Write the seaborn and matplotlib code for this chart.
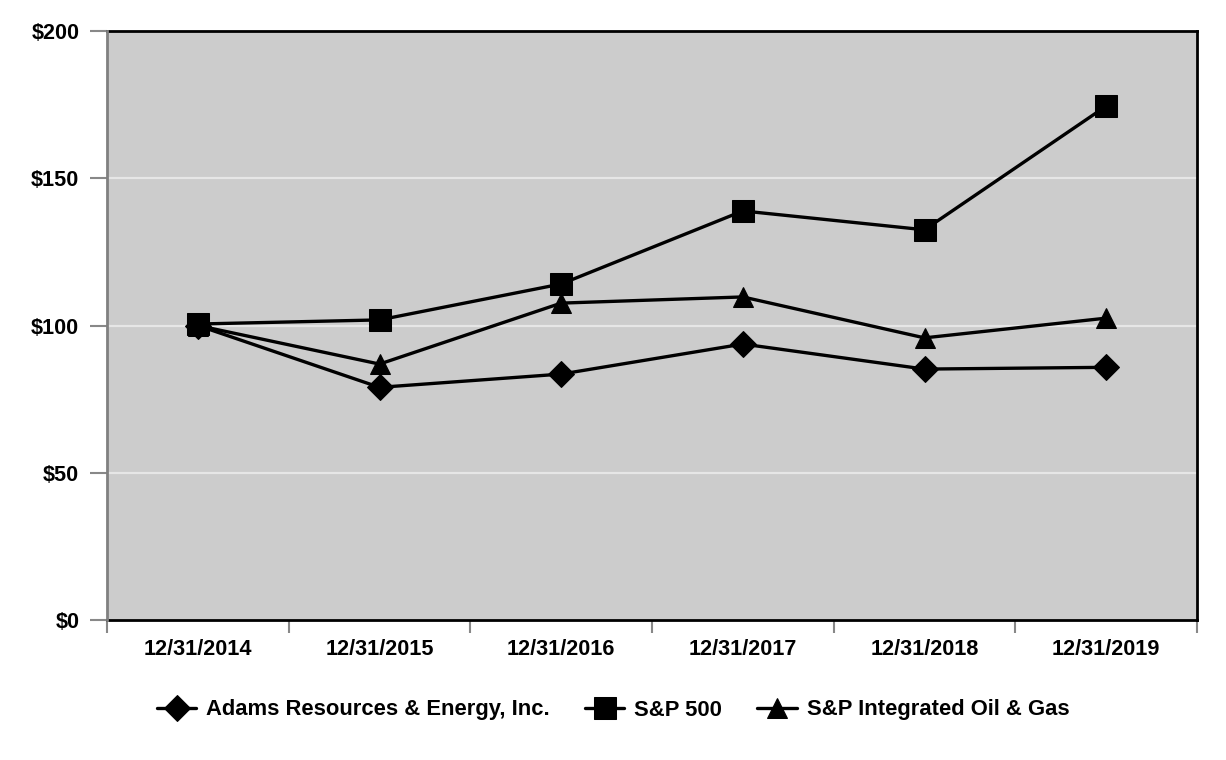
import matplotlib
matplotlib.use("Agg")
import matplotlib.pyplot as plt
import seaborn as sns
import pandas as pd
import numpy as np

dates = ["12/31/2014", "12/31/2015", "12/31/2016", "12/31/2017", "12/31/2018", "12/31/2019"]
adams = [100.0, 79.0, 83.5, 93.7, 85.2, 85.8]
sp500 = [100.5, 101.9, 114.1, 138.9, 132.5, 174.5]
oilgas = [100.0, 86.9, 107.6, 109.7, 95.8, 102.5]
series_names = ["Adams Resources & Energy, Inc.", "S&P 500", "S&P Integrated Oil & Gas"]
yticks = [0, 50, 100, 150, 200]

sns.set_theme(style="white")
plt.rcParams["font.family"] = ["Liberation Sans", "DejaVu Sans"]
plt.rcParams["font.weight"] = "bold"
plt.rcParams["text.color"] = "black"
plt.rcParams["xtick.color"] = "black"
plt.rcParams["ytick.color"] = "black"

rows = []
for name, vals in zip(series_names, [adams, sp500, oilgas]):
    for i, (d, v) in enumerate(zip(dates, vals)):
        rows.append({"pos": i, "date": d, "value": v, "series": name})
df = pd.DataFrame(rows)

fig = plt.figure(figsize=(12.26, 7.6), dpi=100)
ax = fig.add_axes([107/1226, 1-620/760, (1197-107)/1226, (620-31)/760])
ax.set_facecolor("#cccccc")

for y in [50, 100, 150]:
    ax.axhline(y, color="#e6e6e6", lw=1.6, zorder=0)

markers = {series_names[0]: "D", series_names[1]: "s", series_names[2]: "^"}
sizes = {series_names[0]: 13, series_names[1]: 16, series_names[2]: 15}
for name in series_names:
    sub = df[df.series == name]
    sns.lineplot(data=sub, x="pos", y="value", ax=ax, color="black", lw=2.4,
                 marker=markers[name], markersize=sizes[name], markeredgecolor="black",
                 markerfacecolor="black", label=name, legend=False, zorder=3)

ax.set_xlim(-0.5, 5.5)
ax.set_ylim(0, 200)
ax.set_xticks(range(len(dates)))
ax.set_xticklabels(dates, fontsize=15.6, fontweight="bold", color="black")
ax.set_xticks(np.arange(-0.5, 5.6, 1.0), minor=True)
ax.tick_params(axis="x", which="major", bottom=False, length=0, pad=14)
ax.tick_params(axis="x", which="minor", bottom=True, length=9, width=1.5, color="#888888", direction="out")
ax.set_yticks(yticks)
ax.set_yticklabels([f"${v}" for v in yticks], fontsize=15.6, fontweight="bold", color="black")
ax.tick_params(axis="y", left=True, length=12, width=1.5, color="#888888", direction="out", pad=8)
ax.set_xlabel("")
ax.set_ylabel("")
ax.grid(False)

ax.spines["left"].set_color("#808080")
ax.spines["left"].set_linewidth(2)
for s in ["top", "right", "bottom"]:
    ax.spines[s].set_color("black")
    ax.spines[s].set_linewidth(2)
ax.spines["left"].set_zorder(5)

handles, labels = ax.get_legend_handles_labels()
leg = fig.legend(handles, labels, loc="center", bbox_to_anchor=(0.5, 1-710/760), ncol=3,
                 frameon=False, prop={"size": 15.8, "weight": "bold"}, handlelength=1.8,
                 columnspacing=1.6, handletextpad=0.45, labelcolor="black")

fig.savefig("out.png", dpi=100, facecolor="white")
